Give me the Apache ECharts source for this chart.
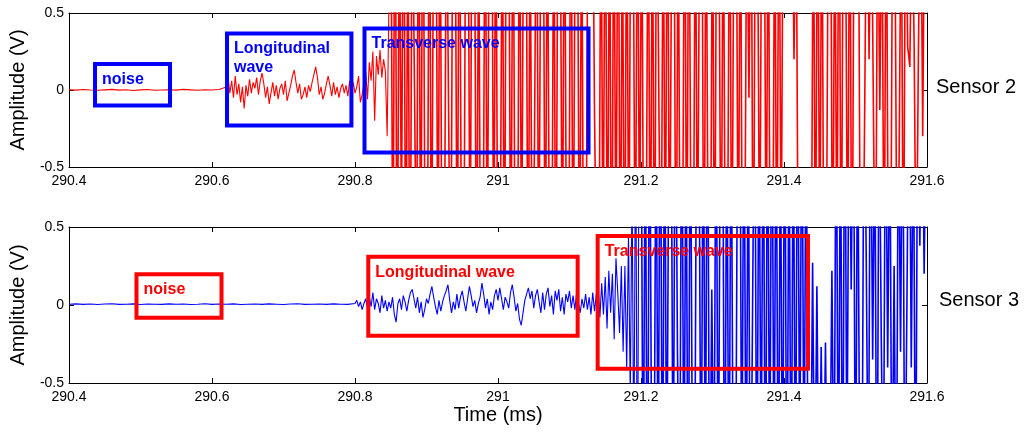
<!DOCTYPE html>
<html><head><meta charset="utf-8">
<script src="https://cdn.jsdelivr.net/npm/echarts@6/dist/echarts.min.js"></script>
<style>html,body{margin:0;padding:0;background:#fff}#c{width:1029px;height:432px}</style>
</head><body><div id="c"></div>
<script>
// ---- Sensor 2 (top, red) : amplitude samples (V) ----
const s2NoiseStart = 290.40, s2NoiseStep = 0.01;
const s2Noise = [0.002,-0.001,0.003,0.000,-0.002,0.001,0.004,-0.001,0.002,-0.003,
                 0.001,0.003,-0.002,0.000,0.002,-0.001,0.004,0.001,-0.002,0.002,
                 0.000,0.003];
const s2WaveStart = 290.62, s2WaveStep = 0.0025;
const s2Wave = [0.02,0.08,-0.02,0.06,-0.05,0.09,-0.03,0.04,-0.08,0.02,
                -0.12,0.03,-0.04,0.07,-0.02,0.05,0.01,0.08,-0.03,0.06,
                0.11,0.04,-0.05,0.02,-0.09,-0.02,0.05,-0.04,0.03,-0.06,
                0.01,0.04,-0.03,0.06,-0.07,-0.02,0.03,0.09,0.13,0.05,
                -0.02,0.04,-0.06,-0.03,0.02,-0.05,0.03,-0.01,0.05,0.10,
                0.15,0.08,-0.03,0.02,-0.06,-0.02,0.04,0.09,0.03,-0.04,
                0.05,-0.03,0.02,-0.05,0.01,0.04,-0.02,0.03,-0.04,0.06,
                -0.03,0.05,-0.02,0.02,0.09,-0.08,-0.03,0.04,0.12,-0.06,
                0.18,0.06,0.25,-0.20,0.22,0.10,0.26,0.08,0.20,0.12,
                -0.30,0.60];
const s2BurstStart = 290.85, s2BurstStep = 0.003;
const s2Burst = [1.6,-1.4,1.8,-1.7,1.3,-0.9,1.9,-1.6,1.2,-1.8,
                 1.5,0.1,-1.3,1.6,-1.4,1.9,-1.2,-1.6,1.8,-1.5,
                 1.3,1.7,-1.4,1.6,-1.8,-1.2,1.5,-0.2,-1.6,1.7,
                 1.4,-1.5,1.8,-1.3,-1.7,1.6,1.5,-1.4,1.9,1.3,
                 -1.6,1.2,-1.8,-1.5,1.7,-1.4,1.6,1.8,-1.3,1.5,
                 -1.7,-1.2,1.4,-1.6,1.9,1.3,-1.5,1.7,-1.4,-1.8,
                 1.6,-1.3,1.5,1.8,-1.7,1.2,-1.6,-0.35,1.7,-1.5,
                 1.3,1.8,-1.6,1.4,-1.2,-1.7,1.5,-1.8,1.6,1.3,
                 -1.4,1.7,-1.5,-1.3,1.8,-1.6,1.2,1.5,-1.7,1.4,
                 -1.8,-1.5,1.6,1.3,1.7,-0.15,-1.4,-1.6,1.5,-1.3,
                 1.7,-1.5,1.4,-1.8,1.6,-1.3,1.9,-1.6,1.2,-1.7,
                 1.5,-1.4,1.8,1.3,-1.6,1.7,-1.2,1.5,-1.8,-1.4,
                 1.6,-1.5,1.3,-1.7,1.8,-0.1,-1.6,1.4,-1.3,1.7,
                 -1.5,1.2,1.6,-1.8,1.4,-1.6,-1.3,1.7,-1.5,1.8,
                 -1.2,-1.6,1.5,-1.4,1.3,1.7,-1.8,1.6,-1.3,-1.5,
                 1.4,-1.7,1.8,1.2,-1.6,1.5,-1.4,-1.2,1.7,-1.6,
                 1.3,1.8,-1.5,1.6,-1.7,-1.3,1.4,-0.05,1.7,-1.8,
                 1.5,1.2,-1.4,1.6,1.8,-1.3,1.5,-1.7,-1.6,1.4,
                 -1.5,1.7,-1.2,1.6,1.8,1.5,1.9,1.6,0.2,1.4,
                 -1.5,-1.6,-1.3,-1.7,-1.4,-1.5,-1.6,1.5,-1.4,1.7,
                 -1.3,1.6,-1.8,-1.5,1.4,1.7,-1.6,1.3,-1.2,1.8,
                 -1.6,1.5,1.2,-1.4,1.7,-1.8,1.3,1.6,1.4,-1.5,
                 -1.6,-0.05,1.7,0.2,1.5,-0.1,-1.6,1.4,-0.13,1.3,
                 -1.5,1.6,-1.4,-1.7,1.5,1.2,-1.3,-0.45,1.4,-1.6,
                 1.5,0.28,0.15,1.3,0.3,-1.4,0.25,1.6,-0.3,1.5,
                 1.8];

// ---- Sensor 3 (bottom, blue) ----
const s3NoiseStart = 290.40, s3NoiseStep = 0.01;
const s3Noise = [0.005,0.007,0.004,0.006,0.003,0.006,0.008,0.004,0.005,0.007,
                 0.003,0.006,0.005,0.004,0.007,0.005,0.006,0.003,0.005,0.008,
                 0.004,0.006,0.005,0.007,0.003,0.005,0.006,0.004,0.007,0.005,
                 0.003,0.006,0.008,0.004,0.005,0.006,0.004,0.007,0.005,0.004];
const s3WaveStart = 290.80, s3WaveStep = 0.0025;
const s3Wave = [0.01,0.03,-0.01,0.02,-0.03,0.01,0.04,-0.02,0.05,-0.01,
                0.08,-0.03,0.04,0.01,-0.05,0.06,-0.02,0.03,-0.04,0.02,
                -0.02,0.05,-0.06,-0.11,0.01,0.04,-0.03,0.06,0.02,-0.04,
                0.03,0.08,0.10,0.04,-0.02,0.05,-0.05,0.02,-0.08,-0.03,
                0.04,0.01,0.07,0.12,0.05,-0.01,-0.06,0.03,-0.04,0.02,
                0.06,0.09,0.13,0.03,-0.05,0.02,-0.03,0.07,-0.02,0.05,
                0.09,0.02,-0.04,0.04,0.12,0.06,-0.01,0.03,-0.05,0.01,
                0.05,0.14,0.07,-0.02,0.04,-0.06,0.02,-0.03,0.06,0.10,
                0.03,0.11,0.04,-0.03,0.05,0.02,-0.02,0.08,0.13,0.05,
                -0.04,0.01,-0.09,-0.13,-0.05,0.03,0.07,0.11,0.04,0.09,
                -0.02,0.06,0.10,0.02,-0.05,0.08,-0.03,0.07,0.11,-0.01,
                0.06,-0.06,0.09,0.03,0.10,-0.04,0.05,-0.06,0.07,0.02,
                0.09,-0.02,0.06,-0.03,0.08,0.01,-0.05,0.04,-0.02,0.07,
                -0.03,0.05,-0.06,0.08,-0.04,0.07,0.12,-0.08,0.14,-0.06,
                0.18,-0.15,0.22,-0.05,0.20,-0.22,0.30,0.08,-0.18,0.25,
                -0.30,0.25,-0.42,0.45,-0.60,0.80,-1.10,1.30,-1.50,1.40];
const s3BurstStart = 291.20, s3BurstStep = 0.003;
const s3Burst = [1.6,-1.5,1.3,-1.8,1.7,-1.2,-1.6,1.4,-1.3,1.8,
                 -1.7,1.5,-1.4,1.2,1.6,-1.5,1.8,-0.3,-1.6,1.7,
                 -1.4,1.3,-1.8,1.6,-1.2,-1.5,1.7,1.4,-1.6,1.5,
                 -1.3,1.8,-1.7,0.1,-1.4,1.6,-1.5,1.3,1.7,-1.8,
                 1.4,-1.6,1.5,-1.3,-1.7,1.2,1.8,-1.4,1.6,-1.5,
                 1.3,-1.8,-0.05,1.7,-1.6,1.4,-1.2,1.5,-1.7,1.6,
                 -1.4,1.8,-1.3,1.5,-1.6,1.2,-1.5,1.7,-1.8,1.3,
                 -1.6,1.4,-1.5,1.7,-1.2,1.6,-1.3,1.5,-1.7,-1.5,
                 0.27,-1.4,0.12,-1.5,-0.27,-1.4,-0.24,-1.5,-1.3,0.22,
                 -1.4,1.6,-1.5,1.3,-1.7,1.8,-1.2,1.5,0.1,1.7,
                 -1.6,1.4,-1.3,-1.5,1.7,0.3,-1.4,1.6,-0.35,1.2,
                 -1.8,1.5,-0.2,-1.4,1.6,-0.4,1.3,-1.5,0.25,-1.7,
                 1.4,-0.3,1.6,-1.5,0.05,1.8,-0.4,1.3,-1.6,1.5,
                 0.38,1.6,0.2,1.4];

// ---- annotation boxes: [t1, v1, t2, v2] and their labels ----
const s2Boxes = [[290.4364,0.169,290.5413,-0.101],[290.621,0.367,290.795,-0.231],[290.8133,0.399,291.1266,-0.406]];
const s2BoxLabels = ['noise','Longitudinal\nwave','Transverse wave'];
const s3Boxes = [[290.4944,0.197,290.6133,-0.081],[290.8186,0.310,291.1114,-0.197],[291.1394,0.442,291.4336,-0.408]];
const s3BoxLabels = ['noise','Longitudinal wave','Transverse wave'];

const timeMin = 290.4, timeMax = 291.6, timeStep = 0.2;
const ampMin = -0.5, ampMax = 0.5, ampStep = 0.5;

function seg(start, step, vals){ return vals.map((v,i)=>[+(start+i*step).toFixed(4), v]); }
// quiet part (noise + longitudinal) and the saturated burst, drawn as two joined pieces
const s2Quiet = seg(s2NoiseStart,s2NoiseStep,s2Noise).concat(seg(s2WaveStart,s2WaveStep,s2Wave));
const s2Loud = [s2Quiet[s2Quiet.length-1]].concat(seg(s2BurstStart,s2BurstStep,s2Burst));
const s3Quiet = seg(s3NoiseStart,s3NoiseStep,s3Noise).concat(seg(s3WaveStart,s3WaveStep,s3Wave));
const s3Loud = [s3Quiet[s3Quiet.length-1]].concat(seg(s3BurstStart,s3BurstStep,s3Burst));

const FONT = '"Liberation Sans", Arial, Helvetica, sans-serif';
const tickFmt = v => String(parseFloat((+v).toFixed(1)));

function xAxes(gi, withName){
  const base = {type:'value', gridIndex:gi, min:timeMin, max:timeMax, interval:timeStep,
    splitLine:{show:false},
    axisLine:{show:true, onZero:false, lineStyle:{color:'#000', width:1}},
    axisTick:{show:true, inside:true, length:5, lineStyle:{color:'#000', width:1}}};
  return [
    Object.assign({}, base, {position:'bottom',
      axisLabel:{show:true, color:'#000', fontSize:14, fontFamily:FONT, margin:7, formatter:tickFmt},
      name: withName ? 'Time (ms)' : '', nameLocation:'middle', nameGap:22,
      nameTextStyle:{color:'#000', fontSize:20, fontFamily:FONT}}),
    Object.assign({}, base, {position:'top', axisLabel:{show:false}})
  ];
}
function yAxes(gi){
  const base = {type:'value', gridIndex:gi, min:ampMin, max:ampMax, interval:ampStep,
    splitLine:{show:false},
    axisLine:{show:true, onZero:false, lineStyle:{color:'#000', width:1}},
    axisTick:{show:true, inside:true, length:5, lineStyle:{color:'#000', width:1}}};
  return [
    Object.assign({}, base, {position:'left',
      axisLabel:{show:true, color:'#000', fontSize:14, fontFamily:FONT, margin:5, formatter:tickFmt},
      name:'Amplitude (V)', nameLocation:'middle', nameGap:37,
      nameTextStyle:{color:'#000', fontSize:20, fontFamily:FONT}}),
    Object.assign({}, base, {position:'right', axisLabel:{show:false}})
  ];
}

function lineSeries(xi, yi, data, color, width){
  return {type:'line', xAxisIndex:xi, yAxisIndex:yi, data:data, showSymbol:false, symbol:'none',
    clip:true, lineStyle:{color:color, width:width}, z:2, silent:true};
}

function boxSeries(xi, yi, boxes, labels, color){
  return {type:'custom', xAxisIndex:xi, yAxisIndex:yi, z:10, silent:true, animation:false,
    encode:{x:[0,2], y:[1,3]}, data:boxes, clip:false,
    renderItem:function(params, api){
      const p1 = api.coord([api.value(0), api.value(1)]);
      const p2 = api.coord([api.value(2), api.value(3)]);
      return {type:'group', children:[
        {type:'rect', shape:{x:p1[0], y:p1[1], width:p2[0]-p1[0], height:p2[1]-p1[1]},
          style:{fill:'none', stroke:color, lineWidth:4}},
        {type:'text', x:p1[0]+7, y:p1[1]+6,
          style:{text:labels[params.dataIndex], fill:color, font:'bold 16px '+FONT,
                 align:'left', verticalAlign:'top', lineHeight:19}}
      ]};
    }};
}

const chart = echarts.init(document.getElementById('c'), null, {renderer:'canvas'});
chart.setOption({
  animation:false,
  backgroundColor:'#fff',
  grid:[{left:69, top:13, width:858, height:154},
        {left:69, top:227, width:858, height:156}],
  xAxis: xAxes(0,false).concat(xAxes(1,true)),
  yAxis: yAxes(0).concat(yAxes(1)),
  series:[
    lineSeries(0,0,s2Quiet,'#ff0000',1.1),
    lineSeries(0,0,s2Loud,'#ff0000',1.6),
    lineSeries(2,2,s3Quiet,'#0000ff',1.1),
    lineSeries(2,2,s3Loud,'#0000ff',1.6),
    boxSeries(0,0,s2Boxes,s2BoxLabels,'#0000ff'),
    boxSeries(2,2,s3Boxes,s3BoxLabels,'#ff0000')
  ],
  graphic:[
    {type:'text', left:936, top:77, style:{text:'Sensor 2', fill:'#000', font:'20px '+FONT}},
    {type:'text', left:939, top:290, style:{text:'Sensor 3', fill:'#000', font:'20px '+FONT}}
  ]
});
</script></body></html>
